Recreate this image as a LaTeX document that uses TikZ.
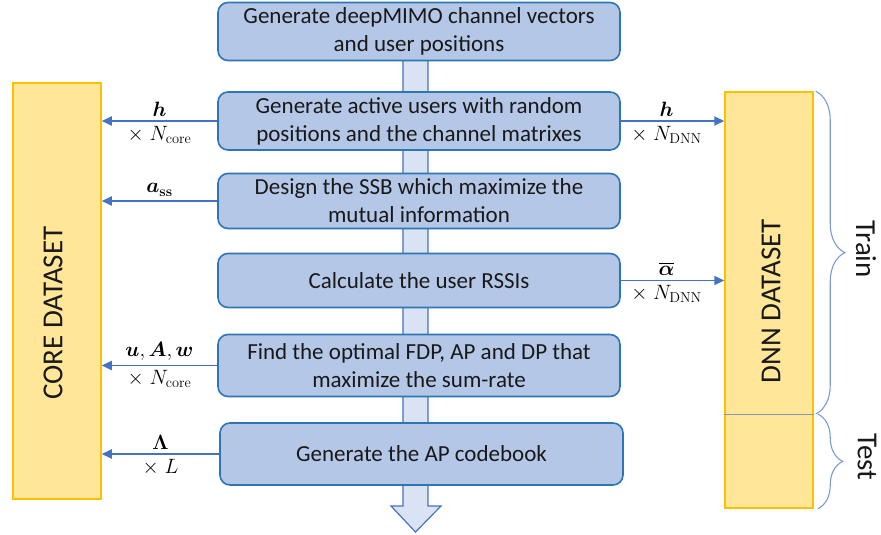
\documentclass[tikz,border=0pt]{standalone}
\usepackage[no-math]{fontspec}
\setmainfont{Carlito}
\usepackage{amsmath,bm}
\usetikzlibrary{arrows.meta,decorations.pathreplacing}

\definecolor{boxfill}{HTML}{B4C7E7}
\definecolor{boxline}{HTML}{2E75B6}
\definecolor{feedline}{HTML}{4472C4}
\definecolor{flowfill}{HTML}{DAE3F3}
\definecolor{setfill}{HTML}{FFE699}
\definecolor{setline}{HTML}{FFC000}
\definecolor{braceline}{HTML}{7A9BD6}
\definecolor{splitline}{HTML}{8497B0}

\begin{document}
\begin{tikzpicture}[x=1pt, y=-1pt,
    stage/.style={rectangle, rounded corners=10pt, draw=boxline, line width=1.6pt,
        fill=boxfill, minimum width=402pt, minimum height=58pt, align=center,
        font=\fontsize{23}{28}\selectfont, text=black!90},
    dataset/.style={rectangle, draw=setline, line width=1.5pt, fill=setfill,
        minimum width=88pt, minimum height=416pt, inner sep=0pt},
    setlabel/.style={font=\fontsize{29}{33}\selectfont, text=black!90},
    flow/.style={draw=feedline, line width=1.2pt, fill=flowfill},
    feed/.style={line width=1.8pt, draw=feedline, -{Triangle[length=10pt,width=9pt]}},
    tag/.style={font=\fontsize{21}{25}\selectfont, inner sep=3pt},
    curly/.style={decorate, decoration={brace, amplitude=#1}, draw=braceline, line width=1.1pt}
]
    \useasboundingbox (0,0) rectangle (881,535);

    % wide arrow behind the steps
    \coordinate (tip) at (415.5,532);
    \draw[flow] (403,40) -- (403,506) -- (391,506) -- (tip) -- (441,506)
        -- (428,506) -- (428,40) -- cycle;

    \node[stage] (gen) at (419,31.5) {Generate deepMIMO channel vectors\\and user positions};
    \node[stage] (act) at (419,121) {Generate active users with random\\positions and the channel matrixes};
    \node[stage, minimum height=55pt] (ssb) at (419,201) {Design the SSB which maximize the\\mutual information};
    \node[stage, minimum height=54pt] (rssi) at (419,280.5) {Calculate the user RSSIs};
    \node[stage, minimum height=62pt] (opt) at (419,365.5) {Find the optimal FDP, AP and DP that\\maximize the sum-rate};
    \node[stage, minimum height=62pt, minimum width=403pt] (book) at (421.5,454) {Generate the AP codebook};

    \node[dataset] (core) at (57,291) {};
    \node[setlabel, rotate=90] (coretext) at (53,313) {CORE DATASET};
    \node[dataset] (dnn) at (769,300) {};
    \node[setlabel, rotate=90] (dnntext) at (771,301) {DNN DATASET};
    \coordinate (cut) at (769,414);
    \draw[splitline, line width=1pt] (dnn.west |- cut) -- (dnn.east |- cut);

    \draw[feed] (act.west) -- (core.east |- act.west)
        node[tag, midway, above=1pt] {$\bm{h}$}
        node[tag, midway, below=1pt] {$\times\;N_{\mathrm{core}}$};
    \draw[feed] (ssb.west) -- (core.east |- ssb.west)
        node[tag, midway, above=1pt] {$\bm{a}_{\mathbf{ss}}$};
    \draw[feed] (opt.west) -- (core.east |- opt.west)
        node[tag, midway, above=1pt] {$\bm{u},\bm{A},\bm{w}$}
        node[tag, midway, below=1pt] {$\times\;N_{\mathrm{core}}$};
    \draw[feed] (book.west) -- (core.east |- book.west)
        node[tag, midway, above=1pt] {$\bm{\Lambda}$}
        node[tag, midway, below=1pt] {$\times\;L$};
    \draw[feed] (act.east) -- (dnn.west |- act.east)
        node[tag, midway, above=1pt, xshift=-6pt] {$\bm{h}$}
        node[tag, midway, below=1pt, xshift=-6pt] {$\times\;N_{\mathrm{DNN}}$};
    \draw[feed] (rssi.east) -- (dnn.west |- rssi.east)
        node[tag, midway, above=1pt, xshift=-6pt] {$\overline{\bm{\alpha}}$}
        node[tag, midway, below=1pt, xshift=-6pt] {$\times\;N_{\mathrm{DNN}}$};

    % train / test split
    \draw[curly=29pt] ([xshift=2pt]dnn.north east) -- ([xshift=2pt]dnn.east |- cut);
    \draw[curly=25pt] ([xshift=4pt]dnn.east |- cut) -- ([xshift=4pt]dnn.south east);
    \node[setlabel, rotate=-90] (train) at (866,249) {Train};
    \node[setlabel, rotate=-90] (test) at (867,457) {Test};
\end{tikzpicture}
\end{document}
